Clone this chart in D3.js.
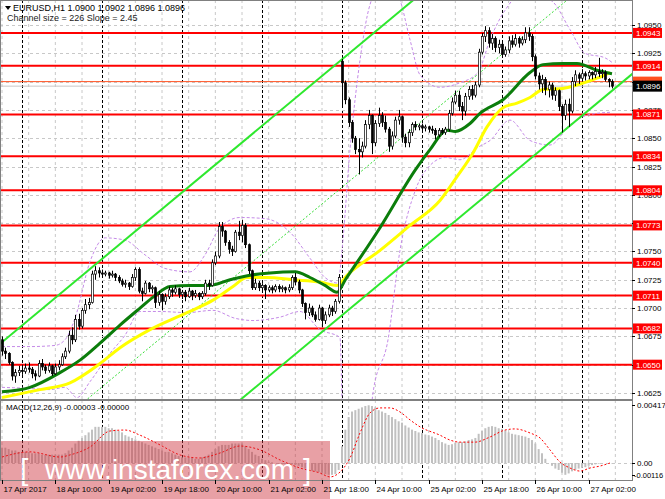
<!DOCTYPE html>
<html><head><meta charset="utf-8">
<script src="https://cdn.jsdelivr.net/npm/d3@7/dist/d3.min.js"></script>
<style>body{margin:0;background:#fff}svg{display:block;font-family:"Liberation Sans",Arial,sans-serif}</style>
</head><body><svg id="c" width="665" height="499"></svg>
<script>
// ---------------- DATA ----------------
const closes=[
1.0662,1.0660,1.0652,1.0640,1.0643,1.0645,1.0644,1.0647,1.0646,1.0642,
1.0640,1.0651,1.0648,1.0645,1.0649,1.0642,1.0648,1.0650,1.0657,1.0662,
1.0676,1.0672,1.0690,1.0684,1.0698,1.0703,1.0705,1.0730,1.0733,1.0731,
1.0730,1.0731,1.0729,1.0730,1.0727,1.0724,1.0721,1.0722,1.0719,1.0727,
1.0734,1.0715,1.0713,1.0722,1.0717,1.0718,1.0705,1.0712,1.0706,1.0710,
1.0716,1.0714,1.0717,1.0712,1.0714,1.0710,1.0715,1.0711,1.0713,1.0710,
1.0713,1.0722,1.0720,1.0740,1.0746,1.0772,1.0768,1.0758,1.0752,1.0750,
1.0767,1.0764,1.0773,1.0756,1.0733,1.0718,1.0722,1.0718,1.0720,1.0716,
1.0718,1.0716,1.0719,1.0717,1.0718,1.0716,1.0718,1.0727,1.0723,1.0716,
1.0704,1.0696,1.0700,1.0694,1.0690,1.0700,1.0689,1.0694,1.0700,1.0697,
1.0706,1.0727,1.0899,1.0884,1.0864,1.0850,1.0840,1.0838,1.0843,1.0862,
1.0870,1.0846,1.0863,1.0870,1.0864,1.0858,1.0843,1.0852,1.0866,1.0869,
1.0851,1.0846,1.0855,1.0862,1.0860,1.0861,1.0859,1.0860,1.0858,1.0857,
1.0853,1.0857,1.0855,1.0858,1.0872,1.0882,1.0888,1.0878,1.0874,1.0887,
1.0893,1.0888,1.0897,1.0926,1.0940,1.0945,1.0934,1.0938,1.0930,1.0933,
1.0924,1.0928,1.0936,1.0933,1.0938,1.0934,1.0937,1.0943,1.0940,1.0922,
1.0905,1.0898,1.0902,1.0893,1.0897,1.0888,1.0892,1.0878,1.0870,1.0880,
1.0874,1.0900,1.0906,1.0903,1.0907,1.0905,1.0908,1.0906,1.0909,1.0907,
1.0908,1.0902,1.0900,1.0896];
const highs=[
1.0675,1.0665,1.0661,1.0653,1.0646,1.0649,1.0650,1.0651,1.0652,1.0648,
1.0645,1.0654,1.0655,1.0650,1.0652,1.0650,1.0651,1.0654,1.0660,1.0665,
1.0680,1.0683,1.0694,1.0695,1.0700,1.0708,1.0709,1.0733,1.0737,1.0736,
1.0734,1.0733,1.0732,1.0733,1.0731,1.0729,1.0726,1.0725,1.0723,1.0730,
1.0736,1.0736,1.0718,1.0724,1.0723,1.0720,1.0719,1.0715,1.0713,1.0713,
1.0719,1.0718,1.0720,1.0718,1.0716,1.0716,1.0718,1.0716,1.0716,1.0714,
1.0715,1.0725,1.0725,1.0743,1.0750,1.0776,1.0776,1.0769,1.0760,1.0755,
1.0769,1.0777,1.0778,1.0775,1.0757,1.0734,1.0726,1.0724,1.0722,1.0721,
1.0720,1.0720,1.0721,1.0721,1.0720,1.0719,1.0721,1.0729,1.0731,1.0725,
1.0717,1.0705,1.0704,1.0702,1.0697,1.0703,1.0701,1.0697,1.0703,1.0702,
1.0708,1.0730,1.0920,1.0901,1.0886,1.0866,1.0852,1.0850,1.0847,1.0866,
1.0875,1.0871,1.0866,1.0877,1.0873,1.0870,1.0860,1.0856,1.0869,1.0875,
1.0870,1.0854,1.0858,1.0864,1.0865,1.0863,1.0863,1.0862,1.0861,1.0861,
1.0859,1.0859,1.0859,1.0860,1.0875,1.0886,1.0892,1.0892,1.0882,1.0890,
1.0896,1.0897,1.0900,1.0929,1.0943,1.0949,1.0948,1.0942,1.0940,1.0937,
1.0935,1.0931,1.0940,1.0941,1.0942,1.0940,1.0940,1.0948,1.0948,1.0942,
1.0924,1.0908,1.0906,1.0904,1.0900,1.0899,1.0895,1.0893,1.0880,1.0884,
1.0885,1.0904,1.0910,1.0908,1.0911,1.0909,1.0910,1.0909,1.0913,1.0921,
1.0911,1.0910,1.0903,1.0902];
const lows=[
1.0658,1.0655,1.0650,1.0636,1.0634,1.0640,1.0641,1.0642,1.0643,1.0638,
1.0636,1.0639,1.0645,1.0642,1.0643,1.0640,1.0641,1.0645,1.0649,1.0655,
1.0660,1.0668,1.0670,1.0681,1.0682,1.0695,1.0699,1.0704,1.0725,1.0727,
1.0727,1.0728,1.0726,1.0727,1.0724,1.0722,1.0719,1.0718,1.0716,1.0718,
1.0724,1.0713,1.0706,1.0712,1.0714,1.0713,1.0700,1.0702,1.0698,1.0703,
1.0708,1.0710,1.0712,1.0709,1.0708,1.0706,1.0709,1.0707,1.0709,1.0707,
1.0708,1.0711,1.0716,1.0719,1.0738,1.0744,1.0763,1.0755,1.0748,1.0746,
1.0749,1.0760,1.0758,1.0753,1.0730,1.0716,1.0716,1.0715,1.0714,1.0708,
1.0714,1.0713,1.0714,1.0714,1.0714,1.0713,1.0714,1.0716,1.0720,1.0713,
1.0701,1.0690,1.0693,1.0692,1.0688,1.0689,1.0683,1.0686,1.0692,1.0693,
1.0695,1.0704,1.0878,1.0880,1.0860,1.0846,1.0836,1.0818,1.0833,1.0841,
1.0858,1.0836,1.0843,1.0860,1.0860,1.0855,1.0838,1.0840,1.0850,1.0862,
1.0846,1.0842,1.0842,1.0852,1.0857,1.0857,1.0856,1.0856,1.0855,1.0854,
1.0849,1.0851,1.0853,1.0853,1.0856,1.0870,1.0880,1.0874,1.0866,1.0870,
1.0884,1.0884,1.0886,1.0895,1.0924,1.0935,1.0930,1.0928,1.0926,1.0925,
1.0921,1.0922,1.0925,1.0930,1.0931,1.0930,1.0932,1.0934,1.0936,1.0918,
1.0902,1.0893,1.0890,1.0888,1.0886,1.0884,1.0883,1.0874,1.0855,1.0866,
1.0860,1.0872,1.0896,1.0898,1.0900,1.0901,1.0902,1.0902,1.0903,1.0904,
1.0903,1.0900,1.0895,1.0894];
// opens that differ from the previous close (first bar, Monday gap)
const openOverrides={0:1.0672,102:1.0918};

// MACD histogram (x 1e-4) per bar
const macdHist=[
11,11,10,9,9,8,8,8,8,7, 7,7,6,6,6,6,6,6,6,7,
9,11,14,16,18,20,22,24,26,26, 26,26,25,25,24,23,22,20,19,18,
17,16,15,14,13,12,11,10,9,8, 8,7,6,5,4,4,4,4,3,3,
4,5,6,8,10,12,13,13,13,14, 14,14,14,12,10,8,6,5,3,2,
1,0.5,0,-0.5,-1,-1,-1,-1,-1.5,-2, -3,-4,-5,-5.5,-6,-6.5,-7,-8,-8.5,-8.5,
-8,-5,12,24,33,37,38,39,40,41, 41.5,41,40,38,37,36,34.5,33,31.5,30,
29,27,25.5,24,23,22,21.5,20.5,20,19, 18,16.5,15,14,13,13.5,14.5,15,15,15.5,
16.5,17,18,21,23,25,26,26.5,26,25, 24.5,23.5,22,21,20.5,20,19.5,19,18,16.5,
14,10,7,3,0,-2,-4,-5,-7,-8.5, -7.5,-6,-5,-4,-3.5,-3,-2,-1.5,-1,-0.5,
0,0,-0.2,-0.3];
// MACD signal line, [bar, value x 1e-4]
const macdSignal=[[0,4.3],[8.4,8],[17.4,4.3],[20.4,5.8],[26.4,11.5],[32.4,23],[36.9,23.7],[41.4,20],[47.4,13],[53.4,5.8],[59.4,3.6],[65.4,7.2],[71.4,12.2],[77.4,9.4],[83.4,2.2],[89.4,-3.6],[95.4,-7.2],[98.4,-10],[101.4,-6.5],[104.4,3.6],[107.4,21.6],[110.4,36],[113.4,39.6],[116.4,39.6],[119.4,36.7],[122.4,31],[125.4,26],[131.4,20],[134.4,16.5],[137.4,15],[141.9,15],[146.4,18.7],[150.9,23.7],[153.9,24.5],[158.4,21.6],[161.4,18],[164.4,9.4],[167.4,0.7],[170.4,-3.6],[173.4,-5.8],[176.4,-3.6],[179.4,-2.2],[182.4,0]];

// Moving averages [bar, price]
const maGreen=[[0,1.0626],[8.4,1.0630],[17.4,1.0643],[23.4,1.0654],[29.4,1.0669],[35.4,1.0685],[41.4,1.0700],[45.9,1.0711],[50.4,1.0719],[56.4,1.0720],[62.4,1.0720],[68.4,1.0725],[74.4,1.0729],[80.4,1.0731],[87.9,1.0732],[92.4,1.0727],[96.9,1.0720],[100.5,1.0714],[103,1.0725],[113.4,1.0771],[124,1.0822],[128.4,1.0840],[133.5,1.0857],[136,1.0856],[140.4,1.0863],[143.4,1.0872],[150.3,1.0884],[158.4,1.0908],[162.3,1.0915],[168.3,1.0916],[172.5,1.0916],[178.5,1.0910],[183,1.0907]];
const maYellow=[[0,1.0621],[11.4,1.0628],[20.4,1.0634],[29.4,1.0651],[35.4,1.0665],[44.4,1.0681],[55.5,1.0696],[63.3,1.0707],[69.3,1.0719],[73.5,1.0727],[79.5,1.0727],[87.3,1.0725],[95.4,1.0723],[100.5,1.0720],[103.5,1.0729],[113.4,1.0751],[122.4,1.0773],[131.4,1.0795],[136.5,1.0816],[141.3,1.0837],[145.5,1.0860],[150.3,1.0877],[154.5,1.0881],[158.4,1.0886],[162.3,1.0893],[168.3,1.0894],[172.5,1.0897],[178.5,1.0903],[182.4,1.0908]];
// Bollinger-type envelopes [bar, price]
const bandUpper=[[0,1.0666],[8.4,1.0666],[15.9,1.0667],[18.9,1.0672],[21.9,1.0691],[26.4,1.0741],[30.9,1.0762],[36.9,1.0760],[42.9,1.0747],[48.9,1.0735],[56.4,1.0732],[60.9,1.0747],[65.4,1.0771],[71.4,1.0780],[78.9,1.0779],[86.4,1.0767],[92.4,1.0744],[96.9,1.0727],[100.8,1.0722],[102,1.0751],[104.4,1.0840],[107.4,1.0919],[110.4,1.0968],[114.9,1.0990],[119.4,1.0972],[122.4,1.0937],[125.4,1.0906],[131.4,1.0895],[137.4,1.0899],[142.8,1.0908],[146.4,1.0937],[150.9,1.0963],[155.4,1.0976],[164.4,1.0972],[170.4,1.0946],[174.9,1.0925],[180.9,1.0921],[183,1.0917]];
const bandLower=[[0,1.0630],[8.4,1.0629],[14.4,1.0628],[18.9,1.0630],[22.5,1.0621],[26.4,1.0635],[32.4,1.0660],[36.9,1.0676],[41.4,1.0697],[47.4,1.0697],[55.5,1.0696],[63.3,1.0698],[69.9,1.0691],[75.3,1.0689],[83.4,1.0692],[89.4,1.0697],[95.4,1.0681],[101.4,1.0674],[102.3,1.0592],[107.4,1.0513],[111.3,1.0625],[115.8,1.0672],[119.4,1.0751],[124,1.0804],[128.4,1.0826],[133,1.0833],[137.4,1.0831],[142.8,1.0842],[146.4,1.0848],[152.4,1.0866],[158.4,1.0848],[164.4,1.0844],[170.4,1.0862],[176.4,1.0871],[183,1.0873]];
// Equidistant channel: lower line anchors and channel size (226 points)
const channelBars=[-2,192];
const channelLower=[1.0439,1.0914];
const channelSize=0.0226;

const priceTicks=[1.0950,1.0925,1.0900,1.0875,1.0850,1.0825,1.0800,1.0775,1.0750,1.0725,1.0700,1.0675,1.0650,1.0625];
const hiddenTickLabels=[1.0900,1.0775,1.0650]; // fully covered by level labels in the reference
const levels=[1.0943,1.0914,1.0871,1.0834,1.0804,1.0773,1.0740,1.0711,1.0682,1.0650];
const timeLabels=["17 Apr 2017","18 Apr 10:00","19 Apr 02:00","19 Apr 18:00","20 Apr 10:00","21 Apr 02:00","21 Apr 18:00","24 Apr 10:00","25 Apr 02:00","25 Apr 18:00","26 Apr 10:00","27 Apr 02:00"];
const timeLabelBars=[0,16,32,48,64,80,96,112,128,144,160,176];
const daySeparatorBars=[6,30,54,78,102,126,150,174];
const macdTicks=[0.00417,0,-0.00116];
const macdTickText=["0.00417","0.00","-0.00116"];
const openLevel=1.0900, bidPrice=1.0896;

// ---------------- DRAW ----------------
const svg=d3.select("#c");
const W=632, mainTop=0, mainBot=399, mTop=400, mBot=480;
const x=d3.scaleLinear().domain([0,183]).range([2,612]);
const y=d3.scaleLinear().domain([1.0625,1.0950]).range([393,25]);
const ym=d3.scaleLinear().domain([0,0.00417]).range([463,405]);

const defs=svg.append("defs");
defs.append("clipPath").attr("id","cm").append("rect").attr("x",1).attr("y",1).attr("width",W-1).attr("height",mainBot-1);
defs.append("clipPath").attr("id","cd").append("rect").attr("x",1).attr("y",mTop+1).attr("width",W-1).attr("height",mBot-mTop-1);

svg.append("rect").attr("width",665).attr("height",499).attr("fill","#fff");
const gm=svg.append("g").attr("clip-path","url(#cm)");
const gd=svg.append("g").attr("clip-path","url(#cd)");

// grid
const gridBars=d3.range(0,185,8);
[gm,gd].forEach((g,k)=>{
  const y0=k?mTop:mainTop, y1=k?mBot:mainBot;
  g.selectAll("line.vg").data(gridBars).join("line").attr("class","vg")
   .attr("x1",d=>x(d)).attr("x2",d=>x(d)).attr("y1",y0).attr("y2",y1)
   .attr("stroke","#c8c8c8").attr("stroke-dasharray","3,3");
  g.selectAll("line.ds").data(daySeparatorBars).join("line").attr("class","ds")
   .attr("x1",d=>Math.round(x(d))+0.5).attr("x2",d=>Math.round(x(d))+0.5).attr("y1",y0).attr("y2",y1)
   .attr("stroke","#000").attr("stroke-dasharray","3,2");
});
gm.selectAll("line.hg").data(priceTicks).join("line").attr("class","hg")
  .attr("x1",0).attr("x2",W).attr("y1",d=>Math.round(y(d))+0.5).attr("y2",d=>Math.round(y(d))+0.5)
  .attr("stroke","#c8c8c8").attr("stroke-dasharray","3,3");
gd.append("line").attr("x1",0).attr("x2",W).attr("y1",Math.round(ym(0))+0.5).attr("y2",Math.round(ym(0))+0.5)
  .attr("stroke","#c8c8c8").attr("stroke-dasharray","3,3");

// levels
gm.selectAll("line.lv").data(levels).join("line").attr("class","lv")
  .attr("x1",0).attr("x2",W).attr("y1",d=>y(d)).attr("y2",d=>y(d))
  .attr("stroke","#ff0000").attr("stroke-width",2);
gm.append("line").attr("x1",0).attr("x2",W).attr("y1",y(openLevel)).attr("y2",y(openLevel)).attr("stroke","#ff5020").attr("stroke-width",1);
gm.append("line").attr("x1",0).attr("x2",W).attr("y1",y(bidPrice)).attr("y2",y(bidPrice)).attr("stroke","#c8c8c8").attr("stroke-width",1);

// bands
const lineP=d3.line().x(d=>x(d[0])).y(d=>y(d[1])).curve(d3.curveMonotoneX);
[bandUpper,bandLower].forEach(b=>gm.append("path").attr("d",lineP(b)).attr("fill","none")
  .attr("stroke","#c58be8").attr("stroke-width",1).attr("stroke-dasharray","3,2"));

// channel
const chLine=off=>[[channelBars[0],channelLower[0]+off],[channelBars[1],channelLower[1]+off]];
const lineS=d3.line().x(d=>x(d[0])).y(d=>y(d[1]));
gm.append("path").attr("d",lineS(chLine(channelSize/2))).attr("stroke","#33dd33").attr("stroke-width",1).attr("stroke-dasharray","2,2").attr("fill","none");
[0,channelSize].forEach(o=>gm.append("path").attr("d",lineS(chLine(o))).attr("stroke","#2ee82e").attr("stroke-width",2).attr("fill","none"));

// MAs
gm.append("path").attr("d",lineP(maYellow)).attr("fill","none").attr("stroke","#ffff00").attr("stroke-width",3);
gm.append("path").attr("d",lineP(maGreen)).attr("fill","none").attr("stroke","#0b7d0b").attr("stroke-width",3);

// candles
const bars=closes.map((c,i)=>({i,c,h:highs[i],l:lows[i],o:(i in openOverrides)?openOverrides[i]:closes[i-1]}));
const cg=gm.append("g");
cg.selectAll("line").data(bars).join("line")
  .attr("x1",d=>Math.round(x(d.i))+0.5).attr("x2",d=>Math.round(x(d.i))+0.5)
  .attr("y1",d=>y(Math.max(d.h,d.o,d.c))).attr("y2",d=>y(Math.min(d.l,d.o,d.c)))
  .attr("stroke","#000").attr("stroke-width",1);
cg.selectAll("rect").data(bars).join("rect")
  .attr("x",d=>Math.round(x(d.i))-0.5).attr("width",2)
  .attr("y",d=>y(Math.max(d.o,d.c))).attr("height",d=>Math.max(1,Math.abs(y(d.o)-y(d.c))))
  .attr("fill",d=>d.c>=d.o?"#fff":"#000").attr("stroke","#000").attr("stroke-width",0.7);

// MACD
gd.selectAll("rect").data(macdHist).join("rect")
  .attr("x",(d,i)=>x(i)-1).attr("width",2)
  .attr("y",d=>Math.min(ym(d*1e-4),ym(0))).attr("height",d=>Math.abs(ym(d*1e-4)-ym(0)))
  .attr("fill","#c0c0c0");
gd.append("path").attr("d",d3.line().x(d=>x(d[0])).y(d=>ym(d[1]*1e-4)).curve(d3.curveMonotoneX)(macdSignal))
  .attr("fill","none").attr("stroke","#ff0000").attr("stroke-width",1).attr("stroke-dasharray","2,2");

// watermark
svg.append("rect").attr("x",0).attr("y",441).attr("width",330).attr("height",58).attr("fill","rgba(204,44,55,0.45)");
svg.append("text").attr("x",45).attr("y",479).attr("font-size",28).attr("fill","#fff").attr("font-weight",300).text("www.instaforex.com");
svg.append("text").attr("x",20).attr("y",480).attr("font-size",30).attr("fill","#fff").attr("font-weight",300).text("[");
svg.append("text").attr("x",303).attr("y",480).attr("font-size",30).attr("fill","#fff").attr("font-weight",300).text("]");

// borders
svg.append("rect").attr("x",0.5).attr("y",0.5).attr("width",W).attr("height",mainBot).attr("fill","none").attr("stroke","#808080");
svg.append("rect").attr("x",0.5).attr("y",mTop+0.5).attr("width",W).attr("height",mBot-mTop).attr("fill","none").attr("stroke","#808080");

// price axis
const ax=svg.append("g").attr("font-size",8).attr("fill","#000");
priceTicks.forEach(p=>{
  ax.append("line").attr("x1",W).attr("x2",W+3).attr("y1",Math.round(y(p))+0.5).attr("y2",Math.round(y(p))+0.5).attr("stroke","#000");
  if(!hiddenTickLabels.includes(p)) ax.append("text").attr("x",637).attr("y",y(p)+3).text(p.toFixed(4));
});
levels.forEach(p=>{
  ax.append("rect").attr("x",633).attr("y",y(p)-5).attr("width",29).attr("height",10).attr("fill","#ff0000");
  ax.append("text").attr("x",636).attr("y",y(p)+3).attr("fill","#fff").text(p.toFixed(4));
});
ax.append("rect").attr("x",633).attr("y",y(openLevel)-5).attr("width",29).attr("height",10).attr("fill","#ff5020");
ax.append("rect").attr("x",633).attr("y",y(bidPrice)-5.5).attr("width",29).attr("height",11).attr("fill","#000");
ax.append("text").attr("x",636).attr("y",y(bidPrice)+3).attr("fill","#fff").text(bidPrice.toFixed(4));
macdTicks.forEach((v,k)=>{
  const yy=k==2?475:ym(v);
  ax.append("line").attr("x1",W).attr("x2",W+3).attr("y1",Math.round(yy)+0.5).attr("y2",Math.round(yy)+0.5).attr("stroke","#000");
  ax.append("text").attr("x",k==2?634:637).attr("y",yy+3).attr("font-size",k==2?7.5:8).text(macdTickText[k]);
});

// time axis
timeLabelBars.forEach((b,k)=>{
  const xx=Math.round(x(b))+0.5;
  ax.append("line").attr("x1",xx).attr("x2",xx).attr("y1",mBot).attr("y2",mBot+4).attr("stroke","#000");
  ax.append("text").attr("x",xx+1).attr("y",492).text(timeLabels[k]);
});

// titles
svg.append("path").attr("d","M5,6 L11,6 L8,10 Z").attr("fill","#000");
svg.append("text").attr("x",13).attr("y",11).attr("font-size",9).text("EURUSD,H1  1.0900 1.0902 1.0896 1.0896");
svg.append("text").attr("x",7).attr("y",21).attr("font-size",9).attr("fill","#222").text("Channel size = 226 Slope = 2.45");
svg.append("text").attr("x",6).attr("y",410).attr("font-size",8).text("MACD(12,26,9) -0.00003 -0.00000");
</script></body></html>
